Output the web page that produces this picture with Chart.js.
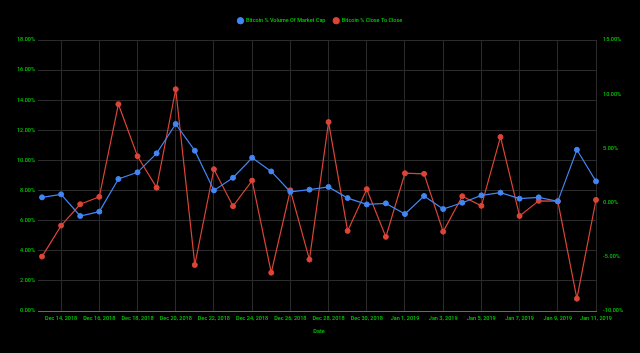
<!DOCTYPE html>
<html>
<head>
<meta charset="utf-8">
<script src="https://cdn.jsdelivr.net/npm/chart.js@4/dist/chart.umd.min.js"></script>
<style>
  html, body { margin: 0; padding: 0; background: #000; }
  #wrap { width: 640px; height: 353px; position: relative; }
</style>
</head>
<body>
<div id="wrap"><canvas id="c" width="640" height="353"></canvas></div>
<script>
const dates = [
  "Dec 13, 2018","Dec 14, 2018","Dec 15, 2018","Dec 16, 2018","Dec 17, 2018","Dec 18, 2018",
  "Dec 19, 2018","Dec 20, 2018","Dec 21, 2018","Dec 22, 2018","Dec 23, 2018","Dec 24, 2018",
  "Dec 25, 2018","Dec 26, 2018","Dec 27, 2018","Dec 28, 2018","Dec 29, 2018","Dec 30, 2018",
  "Dec 31, 2018","Jan 1, 2019","Jan 2, 2019","Jan 3, 2019","Jan 4, 2019","Jan 5, 2019",
  "Jan 6, 2019","Jan 7, 2019","Jan 8, 2019","Jan 9, 2019","Jan 10, 2019","Jan 11, 2019"
];
const volumeOfMarketCap = [
  7.55, 7.75, 6.31, 6.60, 8.77, 9.21, 10.47, 12.42, 10.65, 8.01,
  8.85, 10.18, 9.27, 7.92, 8.06, 8.24, 7.50, 7.08, 7.15, 6.44,
  7.64, 6.77, 7.19, 7.68, 7.86, 7.46, 7.55, 7.28, 10.71, 8.61
];
const closeToClose = [
  -4.98, -2.12, -0.15, 0.53, 9.08, 4.28, 1.38, 10.46, -5.75, 3.08,
  -0.33, 2.03, -6.46, 1.14, -5.26, 7.43, -2.61, 1.24, -3.16, 2.71,
  2.65, -2.68, 0.59, -0.30, 6.06, -1.23, 0.16, 0.13, -8.86, 0.25
];
const seriesNames = ["Bitcoin % Volume Of Market Cap", "Bitcoin % Close To Close"];
const axisTitle = "Date";

const GREEN = '#00cc00';
const GRID = '#2b2b2b';
const BLUE = '#4285f4';
const RED = '#db4437';
const FONT = 'Roboto, "Open Sans", sans-serif';
const FS = 5.5;
const FW = '500';

const legendHeightPlugin = {
  id: 'legendHeight',
  afterInit(chart) {
    const lg = chart.legend;
    if (lg) {
      const orig = lg.fit;
      lg.fit = function () { orig.call(this); this.height = 30; };
    }
  }
};

new Chart(document.getElementById('c'), {
  type: 'line',
  data: {
    labels: dates,
    datasets: [
      {
        label: seriesNames[0],
        data: volumeOfMarketCap,
        yAxisID: 'y',
        borderColor: BLUE,
        backgroundColor: BLUE,
        pointBackgroundColor: BLUE,
        pointBorderColor: BLUE,
        borderWidth: 1.2,
        pointRadius: 2.5,
        pointBorderWidth: 1,
        tension: 0,
        clip: false
      },
      {
        label: seriesNames[1],
        data: closeToClose,
        yAxisID: 'y1',
        borderColor: RED,
        backgroundColor: RED,
        pointBackgroundColor: RED,
        pointBorderColor: RED,
        borderWidth: 1.2,
        pointRadius: 2.5,
        pointBorderWidth: 1,
        tension: 0,
        clip: false
      }
    ]
  },
  options: {
    responsive: false,
    animation: false,
    layout: { padding: { top: 10, left: 0, right: 0, bottom: 0 } },
    plugins: {
      legend: {
        position: 'top',
        align: 'center',
        labels: {
          color: GREEN,
          font: { family: FONT, size: FS, weight: FW },
          usePointStyle: true,
          pointStyle: 'circle',
          boxWidth: 6,
          boxHeight: 4.5,
          padding: 8
        }
      },
      tooltip: { enabled: false }
    },
    scales: {
      x: {
        type: 'category',
        afterFit(s) { s.height = 42; },
        grid: {
          color: (ctx) => (ctx.index % 2 === 1 ? GRID : 'rgba(0,0,0,0)'),
          drawTicks: false,
          lineWidth: 1
        },
        border: { display: true, color: '#6a6a6a' },
        ticks: {
          color: GREEN,
          font: { family: FONT, size: FS, weight: FW },
          autoSkip: false,
          maxRotation: 0,
          minRotation: 0,
          padding: 4,
          callback: function (v, i) { return i % 2 === 1 ? dates[i] : ''; }
        },
        title: {
          display: true,
          text: axisTitle,
          color: GREEN,
          font: { family: FONT, size: FS, weight: FW },
          padding: { top: 6, bottom: 18 }
        }
      },
      y: {
        position: 'left',
        min: 0,
        max: 18,
        afterFit(s) { s.width = 42; },
        grid: {
          color: (ctx) => (ctx.tick && ctx.tick.value === 0 ? '#6a6a6a' : GRID),
          tickLength: 4,
          drawTicks: true
        },
        border: { display: false },
        ticks: {
          stepSize: 2,
          color: GREEN,
          font: { family: FONT, size: FS, weight: FW },
          padding: 3,
          callback: (v) => v.toFixed(2) + '%'
        }
      },
      y1: {
        position: 'right',
        min: -10,
        max: 15,
        afterFit(s) { s.width = 44; },
        grid: { display: false, drawOnChartArea: false, drawTicks: false },
        border: { display: false },
        ticks: {
          stepSize: 5,
          color: GREEN,
          font: { family: FONT, size: FS, weight: FW },
          padding: 7,
          callback: (v) => v.toFixed(2) + '%'
        }
      }
    }
  },
  plugins: [legendHeightPlugin]
});
</script>
</body>
</html>
